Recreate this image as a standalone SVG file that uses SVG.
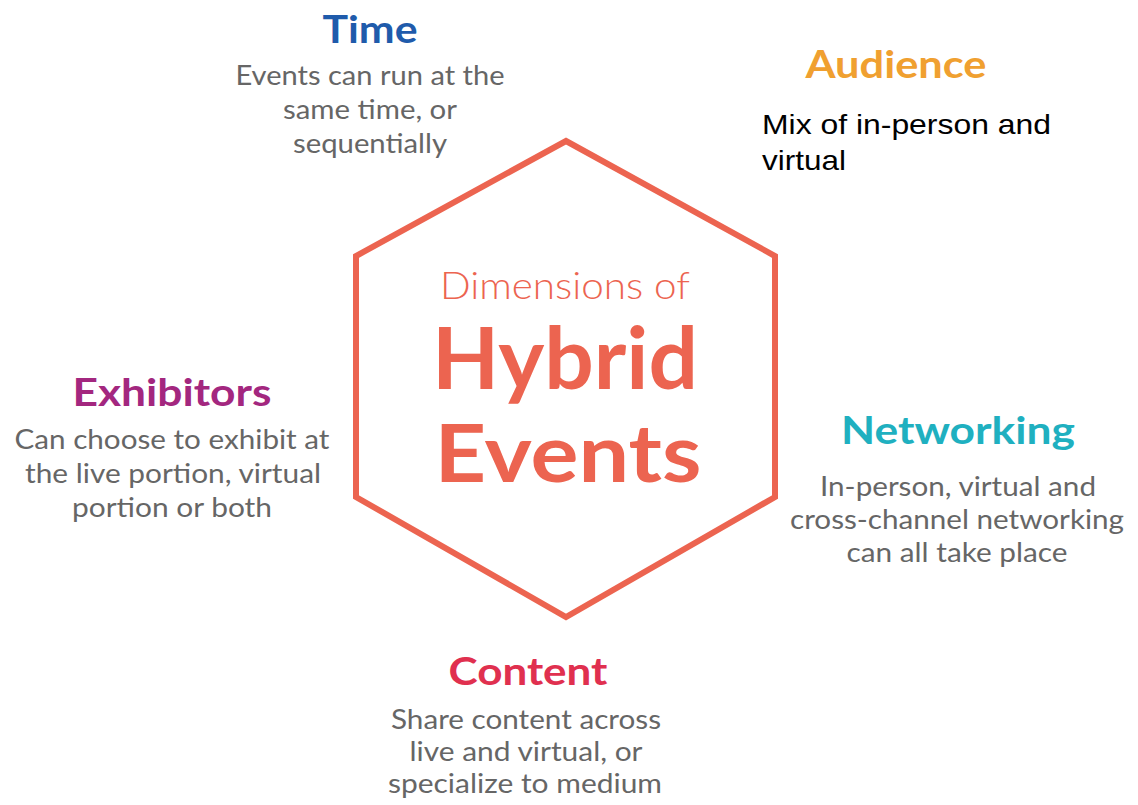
<svg xmlns="http://www.w3.org/2000/svg" width="1138" height="805" viewBox="0 0 1138 805">
<style>
.title{font-family:Lato,"Open Sans",sans-serif;font-weight:700;font-size:38px;text-anchor:middle}
.body{font-family:Lato,"Open Sans",sans-serif;font-size:27px;fill:#666;text-anchor:middle}
.hex{fill:none;stroke:#ec6450;stroke-width:6;stroke-linejoin:miter}
.center{font-family:Lato,"Open Sans",sans-serif;fill:#ec6450;text-anchor:middle}
.arial{font-family:"Liberation Sans",Arial,sans-serif;font-size:28px;fill:#000}
</style>
<rect width="1138" height="805" fill="#fff"/>
<g id="hub">
<polygon class="hex" points="566,141 775,256 775,497 566,617 356,497 356,256"/>
<text class="center" x="565" y="299" font-size="37" font-weight="300" textLength="250" lengthAdjust="spacingAndGlyphs">Dimensions of</text>
<text class="center" x="565" y="389" font-size="86" font-weight="700" textLength="266" lengthAdjust="spacingAndGlyphs">Hybrid</text>
<text class="center" x="568" y="482" font-size="80" font-weight="700" textLength="267" lengthAdjust="spacingAndGlyphs">Events</text>
</g>
<g id="time">
<text class="title" x="370" y="43" fill="#1f5bab" textLength="95" lengthAdjust="spacingAndGlyphs">Time</text>
<text class="body" x="370" y="85" textLength="269" lengthAdjust="spacingAndGlyphs">Events can run at the</text>
<text class="body" x="370" y="119" textLength="174" lengthAdjust="spacingAndGlyphs">same time, or</text>
<text class="body" x="370" y="153" textLength="154" lengthAdjust="spacingAndGlyphs">sequentially</text>
</g>
<g id="audience">
<text class="title" x="896" y="78" fill="#f0a030" textLength="181" lengthAdjust="spacingAndGlyphs">Audience</text>
<text class="arial" x="762" y="134" textLength="289" lengthAdjust="spacingAndGlyphs">Mix of in-person and</text>
<text class="arial" x="762" y="170" textLength="84" lengthAdjust="spacingAndGlyphs">virtual</text>
</g>
<g id="exhibitors">
<text class="title" x="172" y="406" fill="#a3277f" textLength="199" lengthAdjust="spacingAndGlyphs">Exhibitors</text>
<text class="body" x="172" y="449" textLength="315" lengthAdjust="spacingAndGlyphs">Can choose to exhibit at</text>
<text class="body" x="173" y="483" textLength="296" lengthAdjust="spacingAndGlyphs">the live portion, virtual</text>
<text class="body" x="172" y="517" textLength="200" lengthAdjust="spacingAndGlyphs">portion or both</text>
</g>
<g id="networking">
<text class="title" x="958" y="444" fill="#1fb0c0" textLength="234" lengthAdjust="spacingAndGlyphs">Networking</text>
<text class="body" x="958" y="496" textLength="276" lengthAdjust="spacingAndGlyphs">In-person, virtual and</text>
<text class="body" x="957" y="529" textLength="334" lengthAdjust="spacingAndGlyphs">cross-channel networking</text>
<text class="body" x="957" y="562" textLength="221" lengthAdjust="spacingAndGlyphs">can all take place</text>
</g>
<g id="content">
<text class="title" x="528" y="685" fill="#e0304f" textLength="159" lengthAdjust="spacingAndGlyphs">Content</text>
<text class="body" x="526" y="729" textLength="270" lengthAdjust="spacingAndGlyphs">Share content across</text>
<text class="body" x="526" y="761" textLength="233" lengthAdjust="spacingAndGlyphs">live and virtual, or</text>
<text class="body" x="525" y="793" textLength="274" lengthAdjust="spacingAndGlyphs">specialize to medium</text>
</g>
<g id="connectors"></g>
</svg>
